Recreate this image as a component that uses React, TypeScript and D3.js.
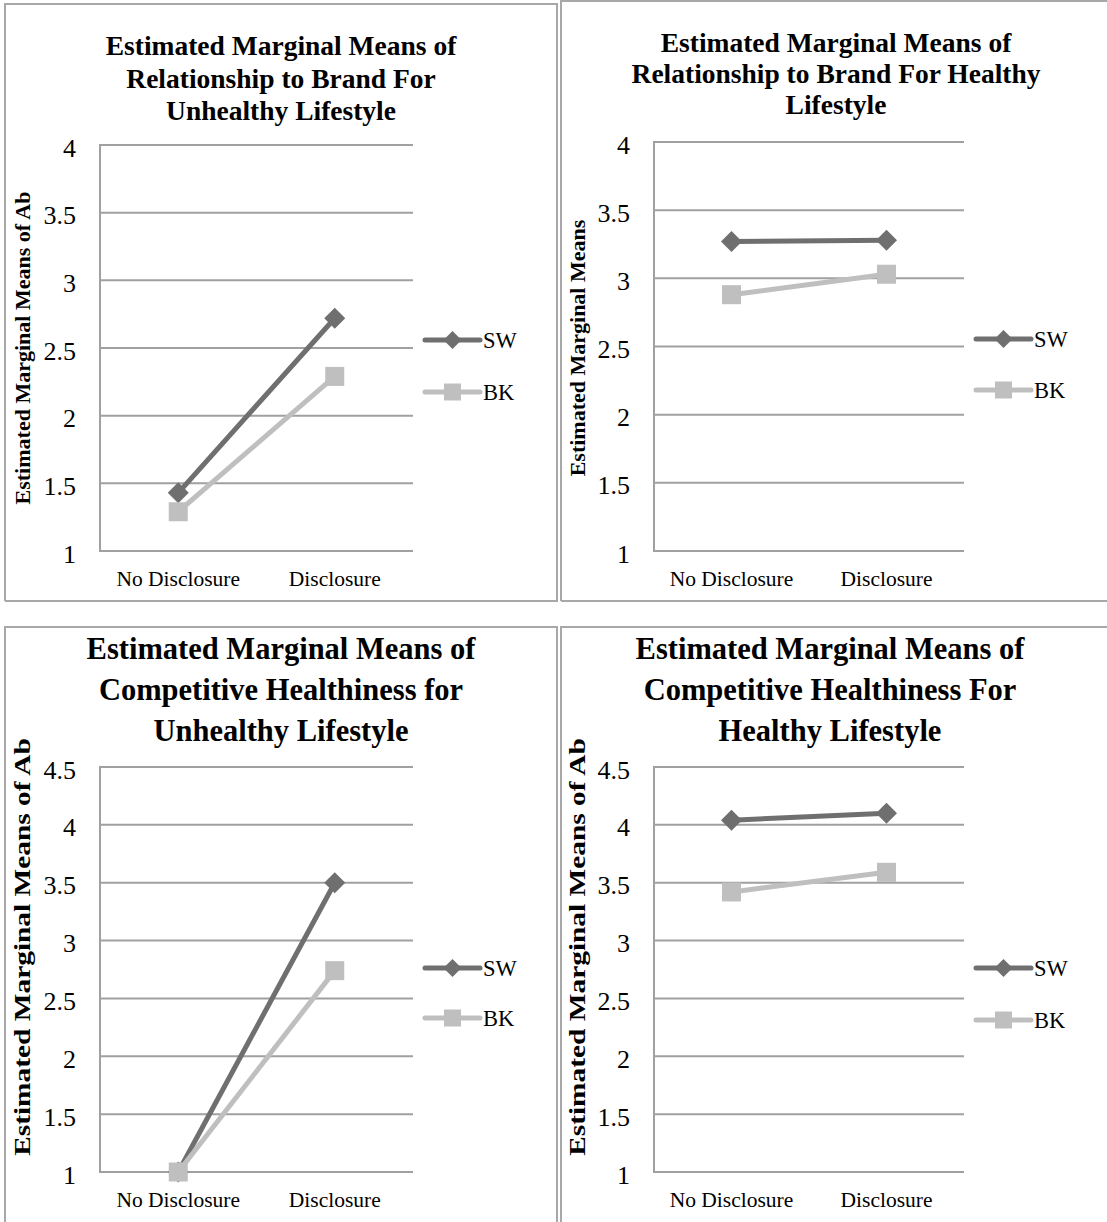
import React from "react";
import * as d3 from "d3";

// Factor levels on the x axis and the two brand series
const categories = ["No Disclosure", "Disclosure"];
const seriesNames = ["SW", "BK"];

// Relationship to brand (Ab) — estimated marginal means
const brandUnhealthySW = [1.43, 2.72];
const brandUnhealthyBK = [1.29, 2.29];
const brandHealthySW = [3.27, 3.28];
const brandHealthyBK = [2.88, 3.03];

// Competitive healthiness — estimated marginal means
const compUnhealthySW = [1.0, 3.5];
const compUnhealthyBK = [1.0, 2.74];
const compHealthySW = [4.04, 4.1];
const compHealthyBK = [3.42, 3.59];

// Axis ticks
const brandTicks = [1, 1.5, 2, 2.5, 3, 3.5, 4];
const compTicks = [1, 1.5, 2, 2.5, 3, 3.5, 4, 4.5];

const SERIF = "'Liberation Serif', 'DejaVu Serif', serif";
const COLORS = { SW: "#6f6f6f", BK: "#bfbfbf" };
const GRID = "#a0a0a0";
const FRAME = "#a8a8a8";

type PanelProps = {
  frame: { x0: number; y0: number; x1: number; y1: number };
  title: string[];
  titleX: number;
  titleY: number[];
  titleSize: number;
  plot: { left: number; right: number; top: number; bottom: number };
  ticks: number[];
  yLabel: string;
  yLabelX: number;
  yLabelY: number;
  yLabelSize: number;
  yLabelStretch: number;
  sw: number[];
  bk: number[];
  legendY: number[];
  catY: number;
};

function Marker({ name, x, y, s }: { name: string; x: number; y: number; s: number }) {
  if (name === "SW") {
    const h = s / 2;
    return (
      <path
        d={`M${x},${y - h}L${x + h},${y}L${x},${y + h}L${x - h},${y}Z`}
        fill={COLORS.SW}
      />
    );
  }
  return <rect x={x - s / 2} y={y - s / 2} width={s} height={s} fill={COLORS.BK} />;
}

function Panel(p: PanelProps) {
  const { plot, ticks } = p;
  const y = d3
    .scaleLinear()
    .domain([ticks[0], ticks[ticks.length - 1]])
    .range([plot.bottom, plot.top]);
  const x = d3
    .scaleBand<string>()
    .domain(categories)
    .range([plot.left, plot.right])
    .paddingInner(0)
    .paddingOuter(0);
  const cx = (c: string) => (x(c) as number) + x.bandwidth() / 2;
  const line = d3
    .line<number>()
    .x((_, i) => cx(categories[i]))
    .y((v) => y(v));
  const seriesData: Record<string, number[]> = { SW: p.sw, BK: p.bk };
  const f = p.frame;

  return (
    <g>
      {/* chart frame */}
      <path
        d={`M${f.x0},${f.y1}L${f.x0},${f.y0}L${f.x1},${f.y0}L${f.x1},${f.y1}${f.y1 < 1222 ? `L${f.x0},${f.y1}` : ""}`}
        fill="none"
        stroke={FRAME}
        strokeWidth={2}
      />
      {/* title */}
      {p.title.map((t, i) => (
        <text
          key={i}
          x={p.titleX}
          y={p.titleY[i]}
          textAnchor="middle"
          fontFamily={SERIF}
          fontWeight="bold"
          fontSize={p.titleSize}
          fill="#000"
        >
          {t}
        </text>
      ))}
      {/* gridlines */}
      {ticks.map((t) => (
        <line
          key={t}
          x1={plot.left}
          x2={plot.right}
          y1={y(t)}
          y2={y(t)}
          stroke={GRID}
          strokeWidth={2}
        />
      ))}
      <line x1={plot.left} x2={plot.left} y1={plot.top - 1} y2={plot.bottom + 1} stroke={GRID} strokeWidth={2} />
      {/* tick labels */}
      {ticks.map((t) => (
        <text
          key={t}
          x={plot.left - 24}
          y={y(t) + 11.5}
          textAnchor="end"
          fontFamily={SERIF}
          fontSize={26}
          fill="#000"
        >
          {d3.format("")(t)}
        </text>
      ))}
      {/* category labels */}
      {categories.map((c) => (
        <text
          key={c}
          x={cx(c)}
          y={p.catY}
          textAnchor="middle"
          fontFamily={SERIF}
          fontSize={21.5}
          fill="#000"
        >
          {c}
        </text>
      ))}
      {/* y-axis title */}
      <text
        transform={`translate(${p.yLabelX},${p.yLabelY}) rotate(-90) scale(${p.yLabelStretch},1)`}
        textAnchor="middle"
        dominantBaseline="central"
        fontFamily={SERIF}
        fontWeight="bold"
        fontSize={p.yLabelSize}
        fill="#000"
      >
        {p.yLabel}
      </text>
      {/* series */}
      {seriesNames.map((s) => (
        <g key={s}>
          <path d={line(seriesData[s]) || ""} fill="none" stroke={COLORS[s as "SW" | "BK"]} strokeWidth={5} />
          {seriesData[s].map((v, i) => (
            <Marker key={i} name={s} x={cx(categories[i])} y={y(v)} s={s === "SW" ? 21 : 19} />
          ))}
        </g>
      ))}
      {/* legend */}
      {seriesNames.map((s, i) => (
        <g key={s}>
          <line
            x1={plot.right + 12}
            x2={plot.right + 67}
            y1={p.legendY[i]}
            y2={p.legendY[i]}
            stroke={COLORS[s as "SW" | "BK"]}
            strokeWidth={5}
            strokeLinecap="round"
          />
          <Marker name={s} x={plot.right + 39.5} y={p.legendY[i]} s={s === "SW" ? 18 : 17} />
          <text
            x={plot.right + 70}
            y={p.legendY[i] + 8}
            fontFamily={SERIF}
            fontSize={22.5}
            fill="#000"
          >
            {s}
          </text>
        </g>
      ))}
    </g>
  );
}

export default function App() {
  return (
    <div style={{ position: "absolute", left: 0, top: 0 }}>
      <svg width={1107} height={1222} style={{ display: "block", background: "#fff" }}>
        <Panel
          frame={{ x0: 5, y0: 4, x1: 557, y1: 601 }}
          title={["Estimated Marginal Means of", "Relationship to Brand For", "Unhealthy Lifestyle"]}
          titleX={281}
          titleY={[55, 88, 120]}
          titleSize={27.5}
          plot={{ left: 100, right: 413, top: 145, bottom: 551 }}
          ticks={brandTicks}
          yLabel="Estimated Marginal Means of Ab"
          yLabelX={22}
          yLabelY={348}
          yLabelSize={22}
          yLabelStretch={1}
          sw={brandUnhealthySW}
          bk={brandUnhealthyBK}
          legendY={[340, 392]}
          catY={586}
        />
        <Panel
          frame={{ x0: 561, y0: 1, x1: 1120, y1: 601 }}
          title={["Estimated Marginal Means of", "Relationship to Brand For Healthy", "Lifestyle"]}
          titleX={836}
          titleY={[52, 83, 114]}
          titleSize={27.5}
          plot={{ left: 654, right: 964, top: 142, bottom: 551 }}
          ticks={brandTicks}
          yLabel="Estimated Marginal Means"
          yLabelX={577}
          yLabelY={348}
          yLabelSize={22}
          yLabelStretch={1}
          sw={brandHealthySW}
          bk={brandHealthyBK}
          legendY={[339, 390]}
          catY={586}
        />
        <Panel
          frame={{ x0: 5, y0: 627, x1: 557, y1: 1240 }}
          title={["Estimated Marginal Means of", "Competitive Healthiness for", "Unhealthy Lifestyle"]}
          titleX={281}
          titleY={[659, 700, 741]}
          titleSize={30.5}
          plot={{ left: 100, right: 413, top: 767, bottom: 1172 }}
          ticks={compTicks}
          yLabel="Estimated Marginal Means of Ab"
          yLabelX={22}
          yLabelY={947}
          yLabelSize={23.5}
          yLabelStretch={1.25}
          sw={compUnhealthySW}
          bk={compUnhealthyBK}
          legendY={[968, 1018]}
          catY={1207}
        />
        <Panel
          frame={{ x0: 561, y0: 627, x1: 1120, y1: 1240 }}
          title={["Estimated Marginal Means of", "Competitive Healthiness For", "Healthy Lifestyle"]}
          titleX={830}
          titleY={[659, 700, 741]}
          titleSize={30.5}
          plot={{ left: 654, right: 964, top: 767, bottom: 1172 }}
          ticks={compTicks}
          yLabel="Estimated Marginal Means of Ab"
          yLabelX={577}
          yLabelY={947}
          yLabelSize={23.5}
          yLabelStretch={1.25}
          sw={compHealthySW}
          bk={compHealthyBK}
          legendY={[968, 1020]}
          catY={1207}
        />
      </svg>
    </div>
  );
}
